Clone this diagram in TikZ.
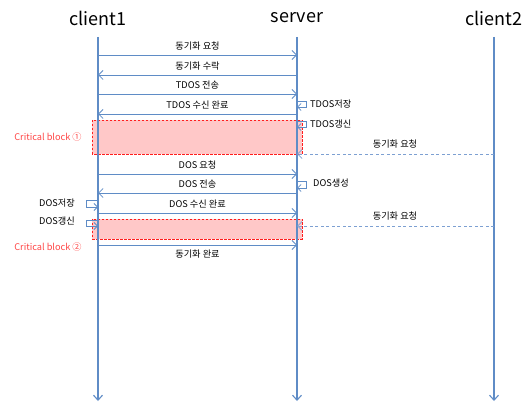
\documentclass[tikz,border=0pt]{standalone}
\usepackage{fontspec}
\setmainfont{Noto Sans CJK KR}
\usetikzlibrary{arrows.meta}
\definecolor{lifeblue}{RGB}{95,140,198}
\definecolor{dashblue}{RGB}{125,160,210}
\definecolor{blockfill}{RGB}{255,200,200}
\definecolor{blockred}{RGB}{255,30,30}
\definecolor{notered}{RGB}{255,70,70}

\begin{document}
\begin{tikzpicture}[x=1pt,y=-1pt,
  title/.style={font=\fontsize{18}{20}\selectfont, inner sep=0pt},
  lbl/.style={font=\fontsize{9.2}{11}\selectfont, inner sep=1pt},
  life/.style={draw=lifeblue, line width=1.1pt, -{Straight Barb[length=5pt,width=9pt]}},
  msg/.style={draw=lifeblue, line width=0.8pt, -{Straight Barb[length=4.5pt,width=9pt]}},
  async/.style={msg, draw=dashblue, dash pattern=on 3pt off 2.5pt},
  selfloop/.style={draw=lifeblue, line width=0.8pt, -{Straight Barb[length=3.5pt,width=7pt]}},
  block/.style={fill=blockfill, draw=blockred, line width=0.7pt, dash pattern=on 2.5pt off 1.5pt},
  blocklbl/.style={lbl, text=notered}]
\useasboundingbox (0,0) rectangle (527,403);

% participants
\node[title] (c1)  at (98,18)  {client1};
\node[title] (srv) at (297,18) {server};
\node[title] (c2)  at (494,18) {client2};
\coordinate (c1top)  at (98,37);   \coordinate (c1bot)  at (98,401);
\coordinate (srvtop) at (297,37);  \coordinate (srvbot) at (297,401);
\coordinate (c2top)  at (494,37);  \coordinate (c2bot)  at (494,401);

% critical sections
\draw[block] (92,120) rectangle (302,154);
\draw[block] (92,219) rectangle (302,239);
\node[blocklbl] (cb1) at (48,137) {Critical block ①};
\node[blocklbl] (cb2) at (48,247) {Critical block ②};

% lifelines
\draw[life] (c1top)  -- (c1bot);
\draw[life] (srvtop) -- (srvbot);
\draw[life] (c2top)  -- (c2bot);

% messages between client1 and server
\draw[msg] (c1top |- 0,55)  -- (srvtop |- 0,55)  node[lbl, midway, above=3.5pt] (m1) {동기화 요청};
\draw[msg] (srvtop |- 0,75) -- (c1top |- 0,75)   node[lbl, midway, above=3.5pt] (m2) {동기화 수락};
\draw[msg] (c1top |- 0,94)  -- (srvtop |- 0,94)  node[lbl, midway, above=3.5pt] (m3) {TDOS 전송};
\draw[msg] (srvtop |- 0,114) -- (c1top |- 0,114) node[lbl, midway, above=3.5pt] (m4) {TDOS 수신 완료};
\draw[msg] (c1top |- 0,174) -- (srvtop |- 0,174) node[lbl, midway, above=3.5pt] (m6) {DOS 요청};
\draw[msg] (srvtop |- 0,193) -- (c1top |- 0,193) node[lbl, midway, above=3.5pt] (m7) {DOS 전송};
\draw[msg] (c1top |- 0,213) -- (srvtop |- 0,213) node[lbl, midway, above=3.5pt] (m8) {DOS 수신 완료};
\draw[msg] (c1top |- 0,245) -- (srvtop |- 0,245) node[lbl, midway, below=3.5pt] (m10) {동기화 완료};

% requests from client2
\draw[async] (c2top |- 0,154) -- (srvtop |- 0,154);
\node[lbl] (r1) at (395,144) {동기화 요청};
\draw[async] (c2top |- 0,226) -- (srvtop |- 0,226);
\node[lbl] (r2) at (395,216) {동기화 요청};

% local actions on the server
\draw[selfloop] (srvtop |- 0,101) -| (306,107) -- (srvtop |- 0,107);
\node[lbl, anchor=west] (a1) at (309,104) {TDOS저장};
\draw[selfloop] (srvtop |- 0,121) -| (306,127) -- (srvtop |- 0,127);
\node[lbl, anchor=west] (a2) at (309,124) {TDOS갱신};
\draw[selfloop] (srvtop |- 0,181) -| (306,188) -- (srvtop |- 0,188);
\node[lbl, anchor=west] (a3) at (312,183) {DOS생성};

% local actions on client1
\draw[selfloop] (c1top |- 0,200) -| (86,207) -- (c1top |- 0,207);
\node[lbl, anchor=east] (a4) at (76,203) {DOS저장};
\draw[selfloop] (c1top |- 0,220) -| (86,226) -- (c1top |- 0,226);
\node[lbl, anchor=east] (a5) at (76,221) {DOS갱신};
\end{tikzpicture}
\end{document}
